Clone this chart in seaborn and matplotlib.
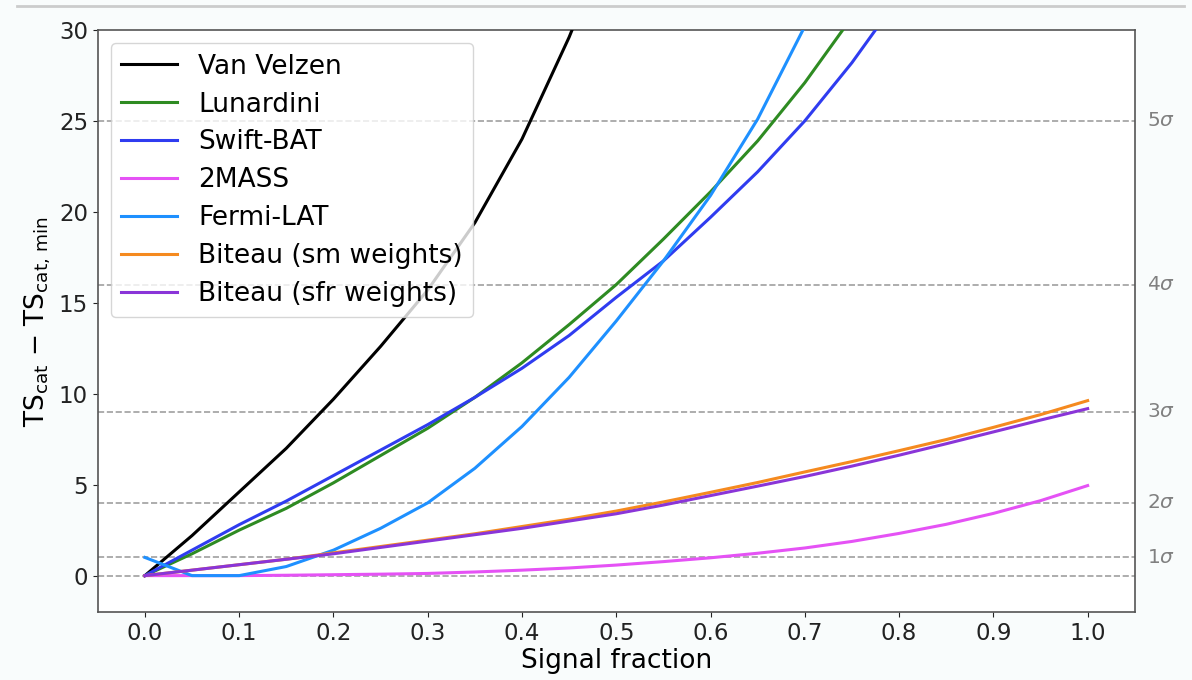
import numpy as np
import pandas as pd
import seaborn as sb
import matplotlib.pyplot as plt
import matplotlib.ticker as ticker
from matplotlib.lines import Line2D

# signal fraction grid
frac = [0.00, 0.05, 0.10, 0.15, 0.20, 0.25, 0.30, 0.35, 0.40, 0.45, 0.50,
        0.55, 0.60, 0.65, 0.70, 0.75, 0.80, 0.85, 0.90, 0.95, 1.00]

nan = np.nan
van_velzen = [0.0, 2.2, 4.6, 7.0, 9.7, 12.6, 15.7, 19.4, 24.0, 29.6, 36.0,
              nan, nan, nan, nan, nan, nan, nan, nan, nan, nan]
lunardini = [0.0, 1.2, 2.5, 3.7, 5.1, 6.6, 8.1, 9.8, 11.7, 13.8, 16.0,
             18.5, 21.1, 23.9, 27.1, 30.7, 34.5, nan, nan, nan, nan]
swift_bat = [0.0, 1.4, 2.8, 4.1, 5.5, 6.9, 8.3, 9.8, 11.4, 13.2, 15.3,
             17.3, 19.7, 22.2, 25.0, 28.2, 31.8, nan, nan, nan, nan]
twomass = [0.0, 0.0, 0.0, 0.02, 0.05, 0.08, 0.12, 0.2, 0.3, 0.42, 0.58,
           0.77, 0.98, 1.23, 1.52, 1.88, 2.32, 2.82, 3.42, 4.12, 4.95]
fermi_lat = [1.0, 0.0, 0.0, 0.5, 1.4, 2.6, 4.0, 5.9, 8.2, 10.9, 14.0,
             17.3, 20.9, 25.1, 30.2, nan, nan, nan, nan, nan, nan]
biteau_sm = [0.0, 0.3, 0.6, 0.9, 1.25, 1.6, 1.95, 2.3, 2.7, 3.1, 3.55,
             4.05, 4.58, 5.12, 5.7, 6.27, 6.87, 7.48, 8.15, 8.85, 9.62]
biteau_sfr = [0.0, 0.3, 0.6, 0.9, 1.2, 1.55, 1.9, 2.25, 2.6, 3.0, 3.4,
              3.88, 4.4, 4.92, 5.45, 6.02, 6.62, 7.25, 7.9, 8.55, 9.18]

series = [
    ("Van Velzen", van_velzen, "black"),
    ("Lunardini", lunardini, "#2e8b22"),
    ("Swift-BAT", swift_bat, "#2f3cf0"),
    ("2MASS", twomass, "#e552f5"),
    ("Fermi-LAT", fermi_lat, "#1e90ff"),
    ("Biteau (sm weights)", biteau_sm, "#f58a1f"),
    ("Biteau (sfr weights)", biteau_sfr, "#8a35d8"),
]

sigma_levels = [1, 4, 9, 16, 25]
sigma_labels = [r"$1\sigma$", r"$2\sigma$", r"$3\sigma$", r"$4\sigma$", r"$5\sigma$"]

plt.rcParams["font.family"] = "DejaVu Sans"
plt.rcParams["font.size"] = 16

fig = plt.figure(figsize=(11.92, 6.8), dpi=100, facecolor="#f9fcfc")
ax = fig.add_axes([0.082, 0.1, 0.87, 0.856])
ax.set_facecolor("white")

# dashed TS levels
for lev in [0] + sigma_levels:
    ax.axhline(lev, ls="--", color="gray", alpha=0.75, lw=1.2, zorder=1)

for name, vals, col in series:
    df = pd.DataFrame({"f": frac, "ts": vals}).dropna()
    sb.lineplot(data=df, x="f", y="ts", color=col, lw=2.2, ax=ax, label=name, zorder=3)

ytrans = ax.get_yaxis_transform()
for lev, lab in zip(sigma_levels, sigma_labels):
    ax.text(1.012, lev, lab, transform=ytrans, color="gray", va="center", ha="left", fontsize=14.5)

ax.set_xlim(-0.05, 1.05)
ax.set_ylim(-2, 30)
ax.xaxis.set_major_locator(ticker.MultipleLocator(0.1))
ax.xaxis.set_major_formatter(ticker.FormatStrFormatter('%.1f'))
ax.yaxis.set_major_locator(ticker.MultipleLocator(5))

ax.set_xlabel("Signal fraction", fontsize=19, labelpad=2)
ax.set_ylabel(r"TS$_{\rm cat}$ $-$ TS$_{\rm cat,\,min}$", fontsize=19, labelpad=4)

for sp in ax.spines.values():
    sp.set_color("#555555")
    sp.set_linewidth(1.2)
ax.tick_params(colors="#222222", labelsize=16.5)

ax.legend(loc="upper left", fontsize=19, handlelength=2.1, labelspacing=0.45)

fig.add_artist(Line2D([0.014, 0.993], [0.991, 0.991], transform=fig.transFigure, color="#cccccc", lw=2))

plt.savefig("out.png", dpi=100, facecolor=fig.get_facecolor())
